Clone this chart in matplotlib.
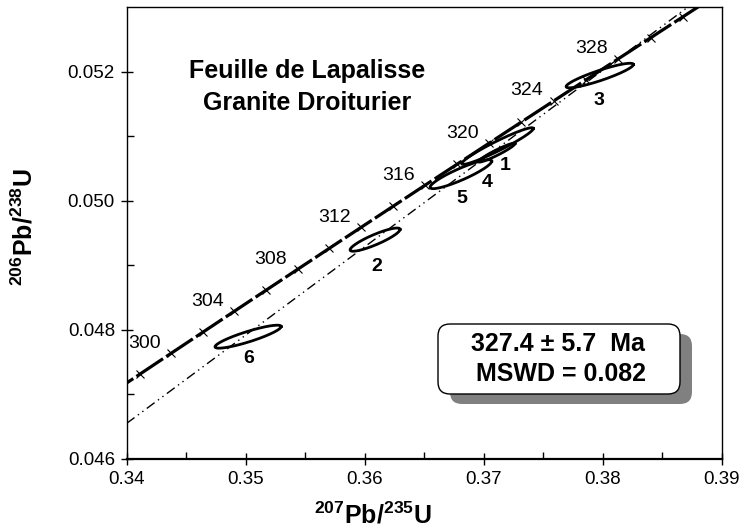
import numpy as np
import matplotlib.pyplot as plt
from matplotlib import font_manager
from matplotlib.patches import FancyBboxPatch
from matplotlib.transforms import IdentityTransform

names = {f.name for f in font_manager.fontManager.ttflist}
narrow = 'Liberation Sans Narrow' if 'Liberation Sans Narrow' in names else 'Liberation Sans'

plt.rcParams['font.family'] = ['Liberation Sans', 'DejaVu Sans']
plt.rcParams['mathtext.fontset'] = 'custom'
plt.rcParams['mathtext.rm'] = narrow
plt.rcParams['mathtext.bf'] = narrow + ':bold'

# decay constants (1/yr)
lam238 = 1.55125e-10
lam235 = 9.8485e-10

# concordia ticks (Ma)
tick_ages = list(range(298, 336, 2))
label_ages = [300, 304, 308, 312, 316, 320, 324, 328]

# analyses: centre, 2-sigma errors, error correlation
ell_names = ['1', '2', '3', '4', '5', '6']
ell_x = [0.37116, 0.36087, 0.37975, 0.37109, 0.36808, 0.35020]
ell_y = [0.050846, 0.049397, 0.051938, 0.050744, 0.050410, 0.047894]
ell_sx = [0.00301, 0.00210, 0.00283, 0.00154, 0.00259, 0.00278]
ell_sy = [0.000284, 0.000180, 0.000190, 0.000147, 0.000224, 0.000178]
ell_rho = [0.957, 0.88, 0.90, 0.95, 0.90, 0.88]
# where the numbers are written
lab_x = [0.37179, 0.36103, 0.37971, 0.37025, 0.36815, 0.35028]
lab_y = [0.050546, 0.048984, 0.051551, 0.050288, 0.050031, 0.047562]

# discordia
disc_x = [0.34, 0.39]
disc_y = [0.046552, 0.053387]

fig = plt.figure(figsize=(7.47, 5.31), dpi=100)
ax = fig.add_axes([0.1696, 0.1356, 0.7966, 0.8513])

# concordia curve
t = np.linspace(294, 336, 400) * 1e6
ax.plot(np.exp(lam235 * t) - 1, np.exp(lam238 * t) - 1, color='black', lw=2.3,
        dashes=(10, 1.2), zorder=3)
ta = np.array(tick_ages) * 1e6
ax.plot(np.exp(lam235 * ta) - 1, np.exp(lam238 * ta) - 1, ls='none', marker='x',
        ms=6, mew=0.8, color='black', zorder=4)
for a in label_ages:
    xa = np.exp(lam235 * a * 1e6) - 1
    ya = np.exp(lam238 * a * 1e6) - 1
    ax.annotate(str(a), (xa, ya), xytext=(-27, 10), textcoords='offset pixels',
                ha='center', va='center', fontsize=14)

# discordia line
ax.plot(disc_x, disc_y, color='black', lw=1, dashes=(7, 3, 1, 3, 1, 3), zorder=2)

# error ellipses
p = np.linspace(0, 2 * np.pi, 200)
for i in range(len(ell_names)):
    ex = ell_x[i] + ell_sx[i] * np.cos(p)
    ey = ell_y[i] + ell_sy[i] * (ell_rho[i] * np.cos(p) + np.sqrt(1 - ell_rho[i] ** 2) * np.sin(p))
    ax.plot(ex, ey, color='black', lw=2, zorder=5)
    ax.text(lab_x[i], lab_y[i], ell_names[i], ha='center', va='center', fontsize=14,
            fontweight='bold', family=[narrow, 'Liberation Sans'])

ax.set_xlim(0.34, 0.39)
ax.set_ylim(0.046, 0.053)
ax.set_xticks([0.34, 0.35, 0.36, 0.37, 0.38, 0.39])
ax.set_xticks(np.arange(0.345, 0.39, 0.01), minor=True)
ax.set_yticks([0.046, 0.048, 0.050, 0.052])
ax.set_yticks([0.047, 0.049, 0.051], minor=True)
ax.set_xticklabels(['0.34', '0.35', '0.36', '0.37', '0.38', '0.39'])
ax.set_yticklabels(['0.046', '0.048', '0.050', '0.052'])
ax.tick_params(which='major', direction='inout', length=9, width=1, labelsize=13.5, pad=4)
ax.tick_params(which='minor', direction='in', length=5, width=1)
for s in ax.spines.values():
    s.set_linewidth(1)
ax.spines['bottom'].set_linewidth(1.6)

ax.set_xlabel(r'$\mathbf{^{207}Pb/^{235}U}$', fontsize=18)
ax.set_ylabel(r'$\mathbf{^{206}Pb/^{238}U}$', fontsize=18)
ax.xaxis.set_label_coords(0.414, -0.096)
ax.yaxis.set_label_coords(-0.150, 0.513)

fig.text(307 / 747, 1 - 71 / 531, 'Feuille de Lapalisse', ha='center', va='center',
         fontsize=18, fontweight='bold')
fig.text(307 / 747, 1 - 103 / 531, 'Granite Droiturier', ha='center', va='center',
         fontsize=18, fontweight='bold')

# result box with shadow (pixel coordinates)
shadow = FancyBboxPatch((450, 127), 242, 70, boxstyle='round,pad=0,rounding_size=12',
                        transform=IdentityTransform(), fc='#808080', ec='none', zorder=6)
box = FancyBboxPatch((438, 137), 242, 70, boxstyle='round,pad=0,rounding_size=12',
                     transform=IdentityTransform(), fc='white', ec='black', lw=1, zorder=7)
fig.add_artist(shadow)
fig.add_artist(box)
fig.text(558 / 747, 1 - 344 / 531, '327.4 ± 5.7  Ma', ha='center', va='center',
         fontsize=18, fontweight='bold', zorder=8)
fig.text(561 / 747, 1 - 374 / 531, 'MSWD = 0.082', ha='center', va='center',
         fontsize=18, fontweight='bold', zorder=8)

fig.savefig('out.png', dpi=100)
